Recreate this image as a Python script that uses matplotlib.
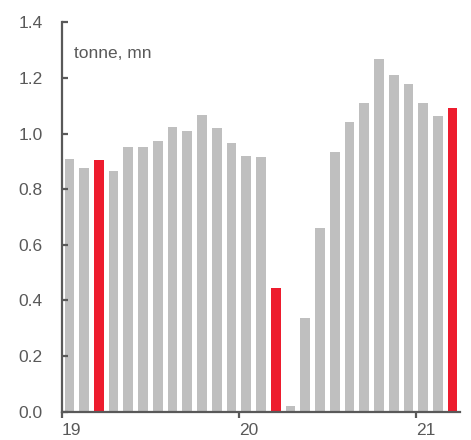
import matplotlib
matplotlib.use("Agg")
import matplotlib.pyplot as plt
import numpy as np

plt.rcParams['font.family'] = ['Liberation Sans', 'DejaVu Sans']

months = ["Jan19","Feb19","Mar19","Apr19","May19","Jun19","Jul19","Aug19","Sep19","Oct19","Nov19","Dec19",
          "Jan20","Feb20","Mar20","Apr20","May20","Jun20","Jul20","Aug20","Sep20","Oct20","Nov20","Dec20",
          "Jan21","Feb21","Mar21"]
values = [0.908, 0.876, 0.905, 0.866, 0.953, 0.953, 0.972, 1.025, 1.009, 1.067, 1.020, 0.966,
          0.919, 0.915, 0.445, 0.020, 0.336, 0.660, 0.933, 1.043, 1.110, 1.267, 1.210, 1.177,
          1.110, 1.063, 1.092]
highlight = ["Mar19", "Mar20", "Mar21"]
year_labels = ["19", "20", "21"]

gray = "#BFBFBF"
red = "#ED1C2E"
txt = "#595959"

fig = plt.figure(figsize=(4.71, 4.40), dpi=100)
ax = fig.add_axes([62/471, (440-411.7)/440, (460-62)/471, (411.7-22.3)/440])

x = np.arange(len(months))
colors = [red if m in highlight else gray for m in months]
ax.bar(x, values, width=0.66, color=colors, edgecolor="none")

ax.set_xlim(-0.5, len(months) - 0.5)
ax.set_ylim(0, 1.4)
ax.set_yticks(np.arange(0, 1.41, 0.2))
ax.set_yticklabels([f"{v:.1f}" for v in np.arange(0, 1.41, 0.2)])
ax.set_xticks([-0.5 + 12*i for i in range(len(year_labels))])
ax.set_xticklabels(year_labels)

for s in ["top", "right"]:
    ax.spines[s].set_visible(False)
for s in ["left", "bottom"]:
    ax.spines[s].set_color(txt)
    ax.spines[s].set_linewidth(1.6)

ax.tick_params(axis="y", direction="in", length=4, width=1.6, color=txt, labelcolor=txt, labelsize=12.5, pad=14)
ax.tick_params(axis="x", direction="out", length=4, width=1.6, color=txt, labelcolor=txt, labelsize=12.5, pad=4)
for lab in ax.get_xticklabels():
    lab.set_horizontalalignment("left")

ax.text(0.03, 0.92, "tonne, mn", transform=ax.transAxes, fontsize=12.5, color=txt, va="center", ha="left")

fig.savefig("out.png", dpi=100)
